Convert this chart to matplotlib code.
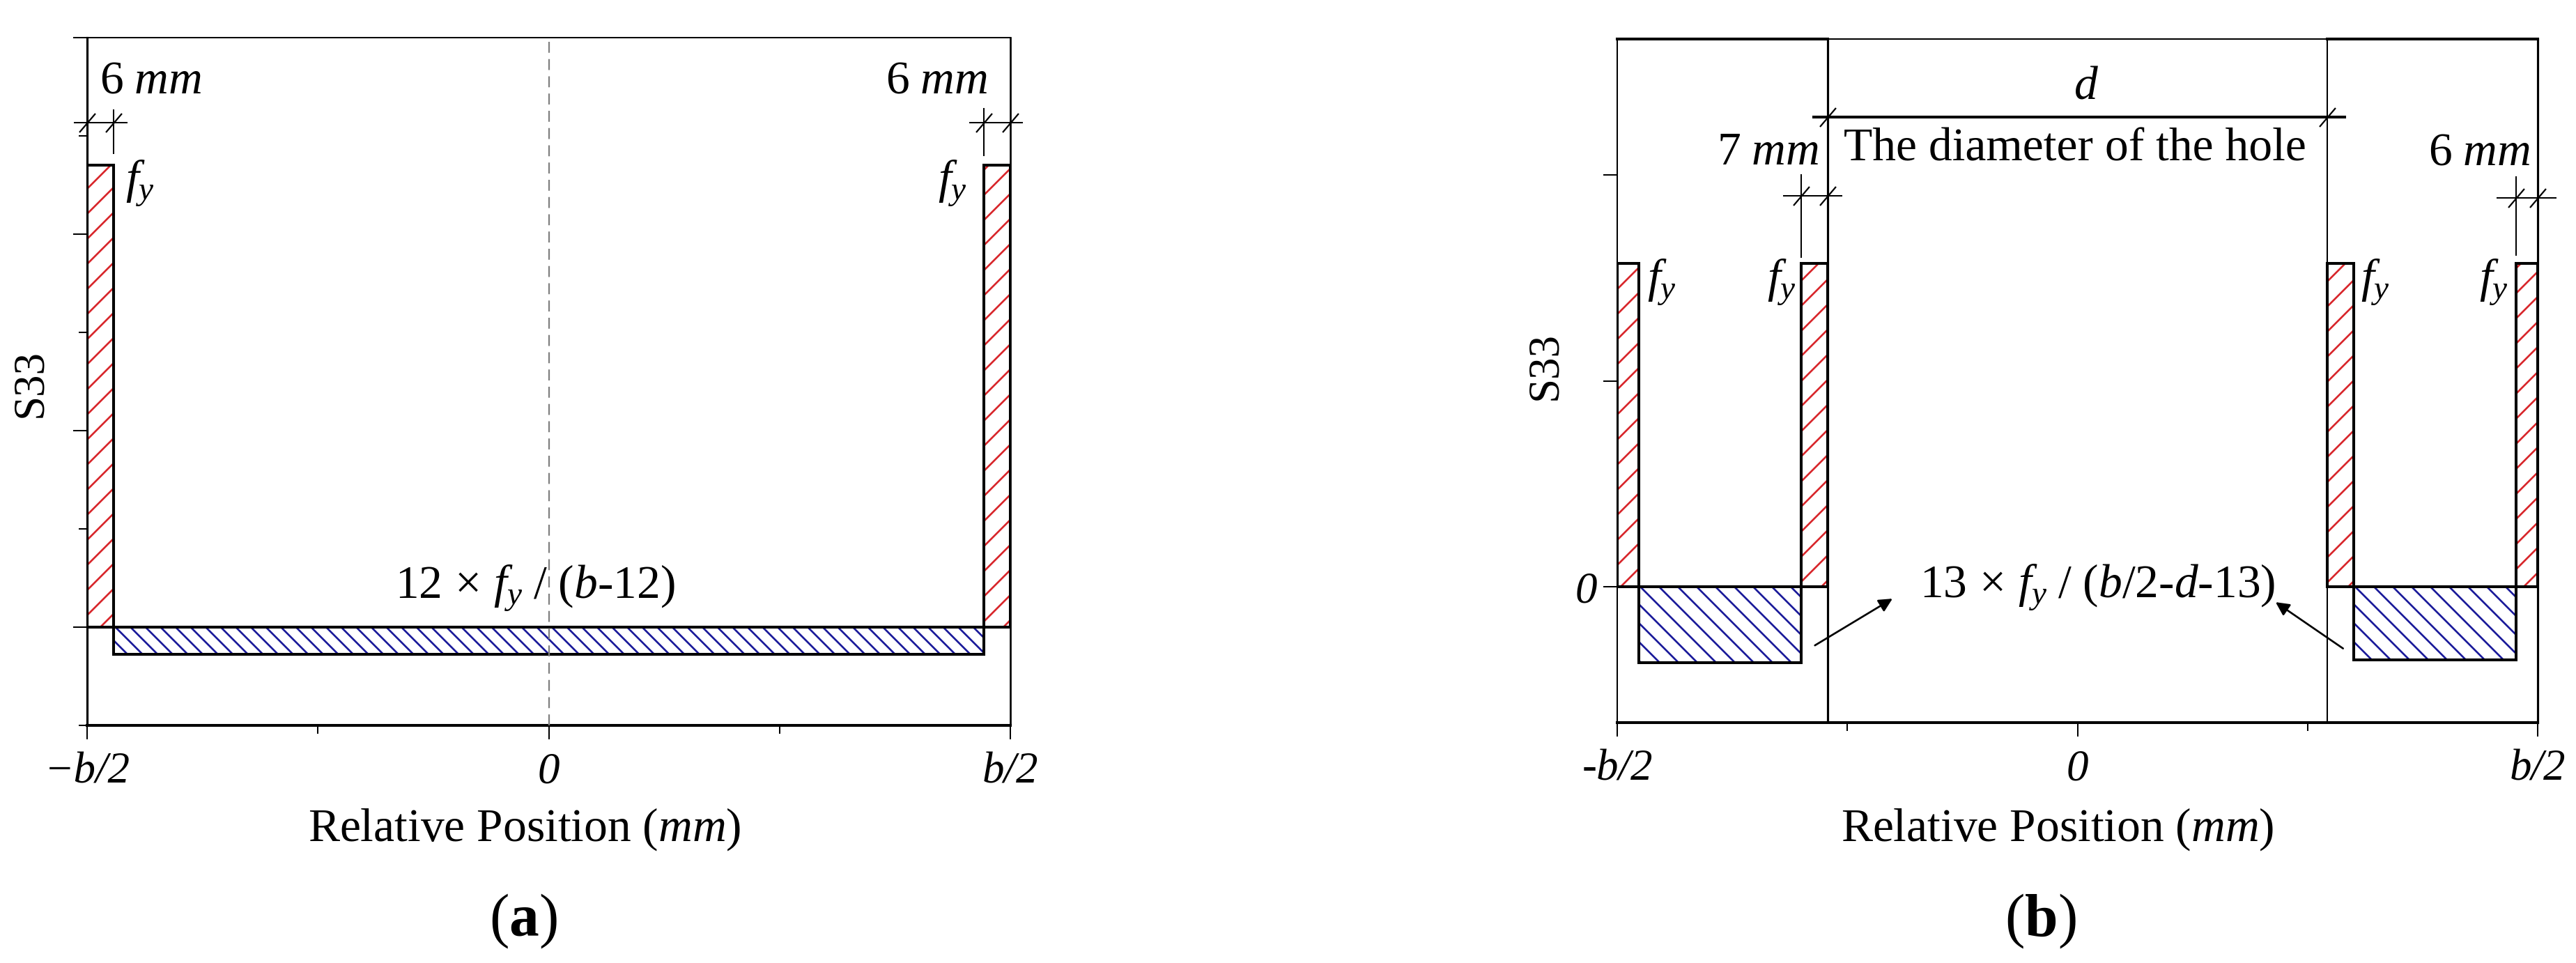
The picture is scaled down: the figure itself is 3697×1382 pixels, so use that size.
import matplotlib
matplotlib.use('Agg')
import matplotlib.pyplot as plt
from matplotlib import transforms

plt.rcParams['font.family'] = 'Liberation Serif'
plt.rcParams['mathtext.fontset'] = 'custom'
plt.rcParams['mathtext.rm'] = 'Liberation Serif'
plt.rcParams['mathtext.it'] = 'Liberation Serif:italic'
plt.rcParams['mathtext.bf'] = 'Liberation Serif:bold'
plt.rcParams['hatch.linewidth'] = 0.6

# ---- data (x in mm across the section, b = 210; y in units of the S33 ticks)
half_b = 105
# panel (a): solid section
a_wall_left = [-105, 99]
a_wall_width = [6, 6]
a_wall_stress = [2.35, 2.35]          # f_y
a_web_left = [-99]
a_web_width = [198]
a_web_stress = [-0.14]                # 12*fy/(b-12)
# panel (b): section with hole
hole_d = 114
b_wall_left = [-105, -63, 57, 100]
b_wall_width = [5, 6, 6, 5]
b_wall_stress = [1.57, 1.57, 1.57, 1.57]
b_web_left = [-100, 63]
b_web_width = [37, 37]
b_web_stress = [-0.37, -0.355]        # 13*fy/(b/2-d-13)

x_major = [-half_b, 0, half_b]
x_minor = [-half_b / 2, half_b / 2]
a_xlabels = ['\u2212b/2', '0', 'b/2']
b_xlabels = ['-b/2', '0', 'b/2']

RED = '#d8262b'
BLUE = '#1a1a9a'

W, H, DPI = 3697, 1383, 324
fig = plt.figure(figsize=(W / DPI, H / DPI), dpi=DPI)


def px_axes(l, t, r, b):
    return fig.add_axes([l / W, 1 - b / H, (r - l) / W, (b - t) / H])


def hatched(ax, left, height, width, color, hatch):
    ax.bar(left, height, width, bottom=0, align='edge', color='white',
           edgecolor=color, hatch=hatch, linewidth=0, zorder=1)
    ax.bar(left, height, width, bottom=0, align='edge', fill=False,
           edgecolor='black', linewidth=0.9, zorder=2)


SLASH = [(-0.85, -1.0), (0.85, 1.0)]


def dim(ax, x0, x1, y, ticks, lw=0.45):
    ax.plot([x0, x1], [y, y], color='black', lw=lw, clip_on=False, zorder=4)
    ax.plot(ticks, [y] * len(ticks), ls='none', marker=SLASH, ms=6.0,
            mec='black', mew=0.5, clip_on=False, zorder=4)


def ext(ax, x, y0, y1):
    ax.plot([x, x], [y0, y1], color='black', lw=0.45, clip_on=False, zorder=4)


def style_axes(ax, ylim):
    ax.set_xlim(-half_b, half_b)
    ax.set_ylim(*ylim)
    ax.set_xticks(x_major)
    ax.set_xticks(x_minor, minor=True)
    ax.tick_params(which='major', direction='out', length=4.4, width=0.45, pad=4)
    ax.tick_params(which='minor', direction='out', length=2.6, width=0.45)
    ax.tick_params(axis='x', labelsize=14)


# ================= panel (a) =================
axa = px_axes(125, 55, 1450, 1042)
style_axes(axa, (-0.5, 3))
axa.set_xticklabels(a_xlabels, fontstyle='italic')
axa.set_yticks([0, 1, 2, 3])
axa.set_yticks([-0.5, 0.5, 1.5, 2.5], minor=True)
axa.set_yticklabels([])
axa.spines['left'].set_linewidth(0.7)
axa.spines['bottom'].set_linewidth(0.9)
axa.spines['top'].set_linewidth(0.45)
axa.spines['right'].set_linewidth(0.6)

hatched(axa, a_wall_left, a_wall_stress, a_wall_width, RED, '///')
hatched(axa, a_web_left, a_web_stress, a_web_width, BLUE, '\\' * 5)
axa.axvline(0, color='#808080', lw=0.5, ls=(0, (7, 4)), zorder=3)

ya = 2.567
dim(axa, -107.8, -96.0, ya, [-105, -99])
ext(axa, -99, 2.63, 2.41)
dim(axa, 95.8, 107.7, ya, [99, 105])
ext(axa, 99, 2.64, 2.40)
axa.text(-102.1, 2.78, r'$\mathrm{6}\ mm$', fontsize=15, ha='left', va='center')
axa.text(99.8, 2.78, r'$\mathrm{6}\ mm$', fontsize=15, ha='right', va='center')
axa.text(-96.3, 2.26, r'$f_y$', fontsize=15, ha='left', va='center')
axa.text(95.2, 2.26, r'$f_y$', fontsize=15, ha='right', va='center')
axa.text(-3.2, 0.2, r'$\mathrm{12}\,\times\,f_y\ /\ (b\text{-}\mathrm{12)}$',
         fontsize=15, ha='center', va='center')

# ================= panel (b) =================
axb = px_axes(2321, 57, 3642, 1038)
style_axes(axb, (-0.66, 2.66))
axb.set_xticklabels(b_xlabels, fontstyle='italic')
axb.set_yticks([0, 1, 2])
axb.set_yticklabels(['0', '', ''], fontstyle='italic', fontsize=14)
axb.tick_params(axis='y', pad=2)
axb.spines['left'].set_linewidth(0.45)
axb.spines['bottom'].set_linewidth(0.9)
axb.spines['top'].set_linewidth(0.45)
axb.spines['right'].set_linewidth(0.7)

top = transforms.blended_transform_factory(axb.transData, axb.transAxes)
axb.plot([-half_b, -hole_d / 2], [1, 1], color='black', lw=0.9,
         transform=top, clip_on=False, zorder=4)
axb.plot([hole_d / 2, half_b], [1, 1], color='black', lw=0.9,
         transform=top, clip_on=False, zorder=4)
axb.axvline(-hole_d / 2, color='black', lw=0.7, zorder=3)
axb.axvline(hole_d / 2, color='black', lw=0.45, zorder=3)

hatched(axb, b_wall_left, b_wall_stress, b_wall_width, RED, '///')
hatched(axb, b_web_left, b_web_stress, b_web_width, BLUE, '\\' * 4)

dim(axb, -60.2, 60.9, 2.281, [-hole_d / 2, hole_d / 2], lw=0.9)
dim(axb, -67.0, -53.8, 1.90, [-63, -57])
ext(axb, -63, 2.0, 1.60)
dim(axb, 95.8, 109.1, 1.89, [100, 105])
ext(axb, 100, 1.99, 1.61)

axb.text(2.0, 2.43, r'$d$', fontsize=15, ha='center', va='center')
axb.text(-0.5, 2.13, 'The diameter of the hole', fontsize=15, ha='center', va='center')
axb.text(-58.9, 2.11, r'$\mathrm{7}\ mm$', fontsize=15, ha='right', va='center')
axb.text(103.4, 2.11, r'$\mathrm{6}\ mm$', fontsize=15, ha='right', va='center')
axb.text(-98.1, 1.48, r'$f_y$', fontsize=15, ha='left', va='center')
axb.text(-64.2, 1.48, r'$f_y$', fontsize=15, ha='right', va='center')
axb.text(64.6, 1.48, r'$f_y$', fontsize=15, ha='left', va='center')
axb.text(98.3, 1.48, r'$f_y$', fontsize=15, ha='right', va='center')
axb.text(4.5, 0.0, r'$\mathrm{13}\,\times\,f_y\ /\ (b/\mathrm{2}\text{-}d\text{-}\mathrm{13)}$',
         fontsize=15, ha='center', va='center')
arrow = dict(arrowstyle='-|>', color='black', lw=0.6, mutation_scale=9,
             shrinkA=0, shrinkB=0)
axb.annotate('', xy=(-42.2, -0.058), xytext=(-59.9, -0.285), arrowprops=arrow)
axb.annotate('', xy=(45.2, -0.075), xytext=(60.6, -0.30), arrowprops=arrow)

# ================= labels =================
fig.text(44 / W, 1 - 550 / H, 'S33', rotation=90, fontsize=14, ha='center', va='center')
fig.text(2218 / W, 1 - 525 / H, 'S33', rotation=90, fontsize=14, ha='center', va='center')
fig.text(753 / W, 1 - 1190 / H, r'Relative Position ($mm$)', fontsize=15,
         ha='center', va='center')
fig.text(2953 / W, 1 - 1190 / H, r'Relative Position ($mm$)', fontsize=15,
         ha='center', va='center')
fig.text(751 / W, 1 - 1322 / H, r'($\mathbf{a}$)', fontsize=19, ha='center', va='center')
fig.text(2928 / W, 1 - 1322 / H, r'($\mathbf{b}$)', fontsize=19, ha='center', va='center')

fig.savefig('out.png', dpi=DPI)
